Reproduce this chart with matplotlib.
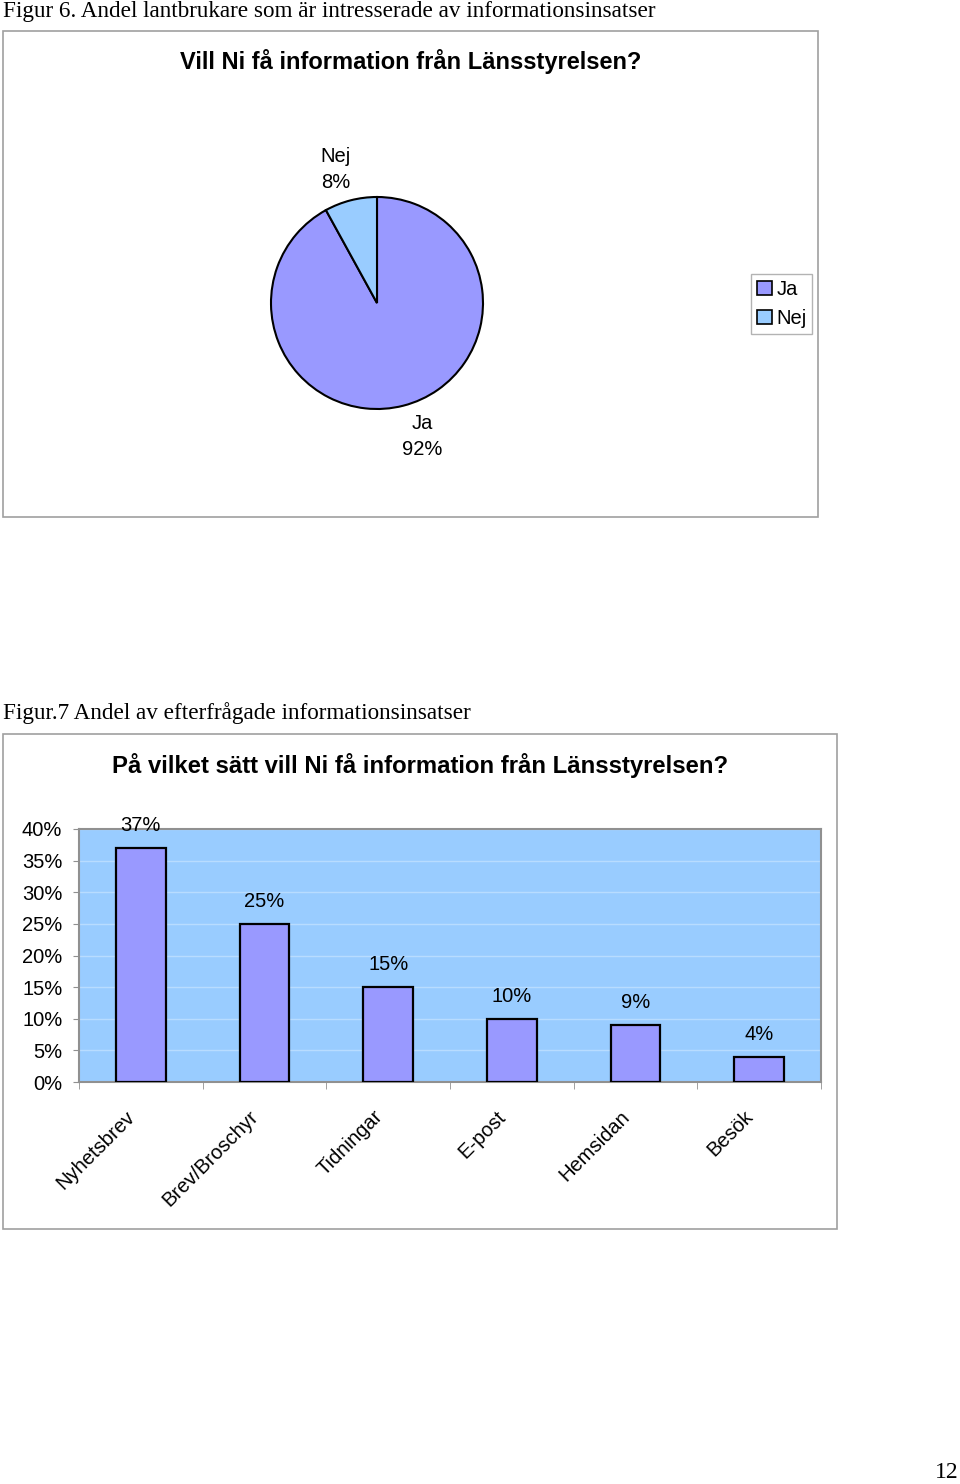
import matplotlib
matplotlib.use("Agg")
import matplotlib.pyplot as plt
import numpy as np
from matplotlib.patches import Rectangle, Patch
from matplotlib.ticker import FuncFormatter, FixedLocator
from matplotlib.transforms import ScaledTranslation

## data
pie_labels = ["Ja", "Nej"]
pie_values = [92, 8]
pie_colors = ["#9999FF", "#99CCFF"]

bar_cats = ["Nyhetsbrev", "Brev/Broschyr", "Tidningar", "E-post", "Hemsidan", "Besök"]
bar_values = [0.37, 0.25, 0.15, 0.10, 0.09, 0.04]
y_ticks = [0, 0.05, 0.10, 0.15, 0.20, 0.25, 0.30, 0.35, 0.40]

W, H = 960, 1484
SANS = "Liberation Sans"
SERIF = "Liberation Serif"
FS = 14.5

fig = plt.figure(figsize=(W / 100, H / 100), dpi=100)
fig.set_facecolor("white")


def rect(x0, y0, x1, y1):
    # pixel box (top-left origin) -> figure fraction
    return [x0 / W, 1 - y1 / H, (x1 - x0) / W, (y1 - y0) / H]


def fx(x):
    return x / W


def fy(y):
    return 1 - y / H


## frames
for (x0, y0, x1, y1) in [(3, 31, 818, 517), (3, 734, 837, 1229)]:
    r = rect(x0, y0, x1, y1)
    fig.patches.append(Rectangle((r[0], r[1]), r[2], r[3], transform=fig.transFigure,
                                 fill=False, edgecolor="#A0A0A0", linewidth=1.2))

## captions
fig.text(fx(3), fy(12), "Figur 6. Andel lantbrukare som är intresserade av informationsinsatser",
         family=SERIF, fontsize=16.7, va="center", ha="left")
fig.text(fx(3), fy(713), "Figur.7 Andel av efterfrågade informationsinsatser",
         family=SERIF, fontsize=16.7, va="center", ha="left")
fig.text(fx(947), fy(1473), "12", family=SERIF, fontsize=17, va="center", ha="center")

## chart 1 - pie
fig.text(fx(411), fy(61), "Vill Ni få information från Länsstyrelsen?",
         family=SANS, fontsize=17, fontweight="bold", ha="center", va="center")

ax1 = fig.add_axes(rect(271, 197, 483, 409))
wedges, _ = ax1.pie(pie_values, colors=pie_colors, startangle=90, counterclock=False,
                    wedgeprops=dict(edgecolor="black", linewidth=1.5))
ax1.set_xlim(-1, 1)
ax1.set_ylim(-1, 1)
ax1.set_aspect("equal")
for w, lab, v in zip(wedges, pie_labels, pie_values):
    mid = np.deg2rad((w.theta1 + w.theta2) / 2)
    ax1.text(1.3 * np.cos(mid) + (0.1 if lab == "Ja" else -0.07), 1.3 * np.sin(mid),
             f"{lab}\n{v}%", family=SANS, fontsize=FS, ha="center", va="center",
             linespacing=1.5, clip_on=False)

handles = [Patch(facecolor=c, edgecolor="black", linewidth=1.2) for c in pie_colors]
leg = fig.legend(handles, pie_labels, loc="upper left",
                 bbox_to_anchor=(fx(751), fy(274)), borderaxespad=0,
                 prop=dict(family=SANS, size=FS), handlelength=0.75, handleheight=0.75,
                 handletextpad=0.2, borderpad=0.3, labelspacing=0.5, fancybox=False)
leg.get_frame().set_edgecolor("#A0A0A0")
leg.get_frame().set_linewidth(1.0)

## chart 2 - bars
fig.text(fx(420), fy(765), "På vilket sätt vill Ni få information från Länsstyrelsen?",
         family=SANS, fontsize=17.2, fontweight="bold", ha="center", va="center")

ax2 = fig.add_axes(rect(79, 829, 821, 1082))
ax2.set_facecolor("#99CCFF")
x = np.arange(len(bar_cats))
bars = ax2.bar(x, bar_values, width=0.4, color="#9999FF", edgecolor="black",
               linewidth=1.6, zorder=3)
for b, v in zip(bars, bar_values):
    ax2.annotate(f"{round(v * 100)}%", (b.get_x() + b.get_width() / 2, v),
                 xytext=(0, 16), textcoords="offset points", ha="center", va="center",
                 family=SANS, fontsize=FS, clip_on=False)

ax2.set_xlim(-0.5, len(bar_cats) - 0.5)
ax2.set_ylim(0, 0.40)
ax2.set_yticks(y_ticks)
ax2.yaxis.set_major_formatter(FuncFormatter(lambda v, p: f"{round(v * 100)}%"))
ax2.yaxis.grid(True, color="#B8DCFF", linewidth=1.0, zorder=0)
ax2.set_axisbelow(True)

ax2.set_xticks(x)
ax2.set_xticklabels(bar_cats, rotation=45, ha="right", va="top")
ax2.xaxis.set_minor_locator(FixedLocator(np.arange(-0.5, len(bar_cats), 1.0)))
ax2.tick_params(axis="x", which="major", length=0, pad=18)
ax2.tick_params(axis="x", which="minor", length=5, color="#909090")
ax2.tick_params(axis="y", length=4, color="#909090", pad=8)
shift = ScaledTranslation(-2 / 100, 0, fig.dpi_scale_trans)
for t in ax2.get_xticklabels():
    t.set_family(SANS)
    t.set_fontsize(FS)
    t.set_transform(t.get_transform() + shift)
for t in ax2.get_yticklabels():
    t.set_family(SANS)
    t.set_fontsize(FS)

for s in ax2.spines.values():
    s.set_color("#909090")
    s.set_linewidth(1.5)

fig.savefig("out.png", dpi=100)
